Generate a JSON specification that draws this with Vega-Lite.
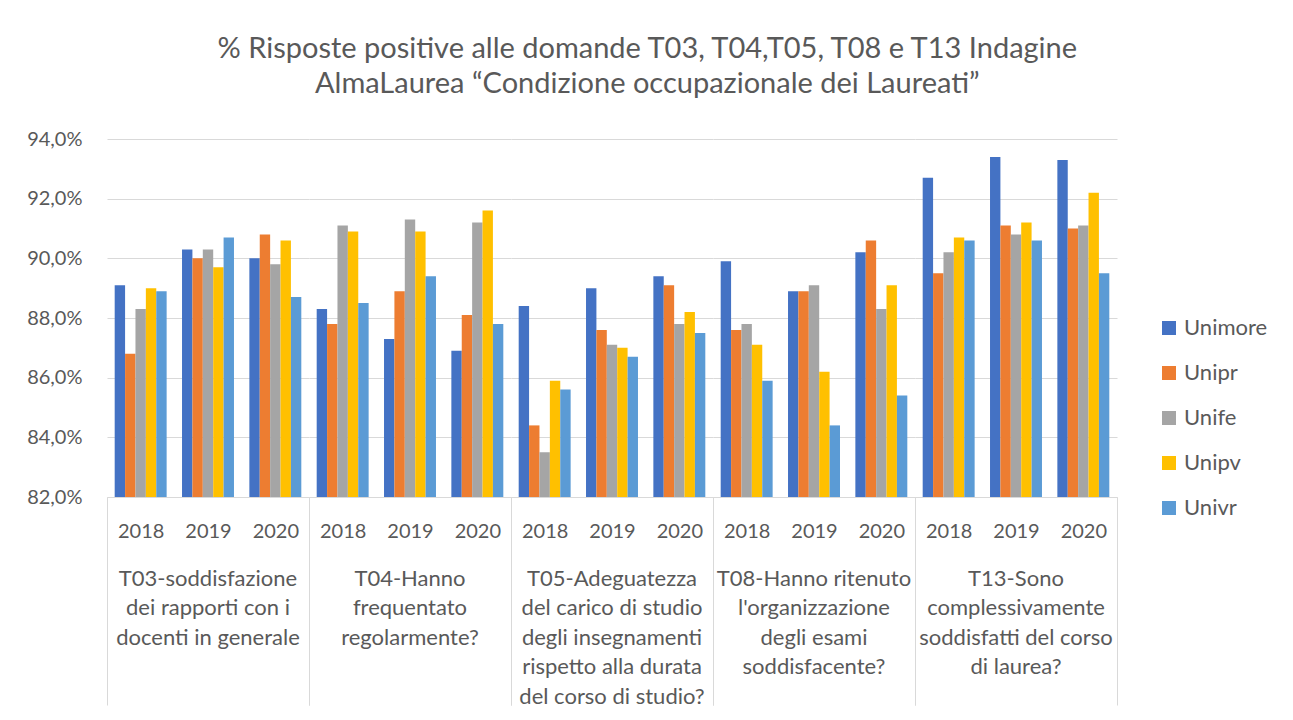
{
  "$schema": "https://vega.github.io/schema/vega-lite/v6.json",
  "background": "white",
  "padding": {"left": 26, "top": 35, "right": 5, "bottom": 0},
  "title": {
    "text": ["% Risposte positive alle domande T03, T04,T05, T08 e T13 Indagine", "AlmaLaurea “Condizione occupazionale dei Laureati”"],
    "font": "Lato", "fontSize": 29, "fontWeight": "normal", "color": "#595959",
    "lineHeight": 35, "anchor": "middle", "frame": "bounds", "offset": 30
  },
  "data": {"values": [
    {"q": "T03-soddisfazione|dei rapporti con i|docenti in generale", "year": "2018", "uni": "Unimore", "v": 89.1},
    {"q": "T03-soddisfazione|dei rapporti con i|docenti in generale", "year": "2018", "uni": "Unipr", "v": 86.8},
    {"q": "T03-soddisfazione|dei rapporti con i|docenti in generale", "year": "2018", "uni": "Unife", "v": 88.3},
    {"q": "T03-soddisfazione|dei rapporti con i|docenti in generale", "year": "2018", "uni": "Unipv", "v": 89.0},
    {"q": "T03-soddisfazione|dei rapporti con i|docenti in generale", "year": "2018", "uni": "Univr", "v": 88.9},
    {"q": "T03-soddisfazione|dei rapporti con i|docenti in generale", "year": "2019", "uni": "Unimore", "v": 90.3},
    {"q": "T03-soddisfazione|dei rapporti con i|docenti in generale", "year": "2019", "uni": "Unipr", "v": 90.0},
    {"q": "T03-soddisfazione|dei rapporti con i|docenti in generale", "year": "2019", "uni": "Unife", "v": 90.3},
    {"q": "T03-soddisfazione|dei rapporti con i|docenti in generale", "year": "2019", "uni": "Unipv", "v": 89.7},
    {"q": "T03-soddisfazione|dei rapporti con i|docenti in generale", "year": "2019", "uni": "Univr", "v": 90.7},
    {"q": "T03-soddisfazione|dei rapporti con i|docenti in generale", "year": "2020", "uni": "Unimore", "v": 90.0},
    {"q": "T03-soddisfazione|dei rapporti con i|docenti in generale", "year": "2020", "uni": "Unipr", "v": 90.8},
    {"q": "T03-soddisfazione|dei rapporti con i|docenti in generale", "year": "2020", "uni": "Unife", "v": 89.8},
    {"q": "T03-soddisfazione|dei rapporti con i|docenti in generale", "year": "2020", "uni": "Unipv", "v": 90.6},
    {"q": "T03-soddisfazione|dei rapporti con i|docenti in generale", "year": "2020", "uni": "Univr", "v": 88.7},
    {"q": "T04-Hanno|frequentato|regolarmente?", "year": "2018", "uni": "Unimore", "v": 88.3},
    {"q": "T04-Hanno|frequentato|regolarmente?", "year": "2018", "uni": "Unipr", "v": 87.8},
    {"q": "T04-Hanno|frequentato|regolarmente?", "year": "2018", "uni": "Unife", "v": 91.1},
    {"q": "T04-Hanno|frequentato|regolarmente?", "year": "2018", "uni": "Unipv", "v": 90.9},
    {"q": "T04-Hanno|frequentato|regolarmente?", "year": "2018", "uni": "Univr", "v": 88.5},
    {"q": "T04-Hanno|frequentato|regolarmente?", "year": "2019", "uni": "Unimore", "v": 87.3},
    {"q": "T04-Hanno|frequentato|regolarmente?", "year": "2019", "uni": "Unipr", "v": 88.9},
    {"q": "T04-Hanno|frequentato|regolarmente?", "year": "2019", "uni": "Unife", "v": 91.3},
    {"q": "T04-Hanno|frequentato|regolarmente?", "year": "2019", "uni": "Unipv", "v": 90.9},
    {"q": "T04-Hanno|frequentato|regolarmente?", "year": "2019", "uni": "Univr", "v": 89.4},
    {"q": "T04-Hanno|frequentato|regolarmente?", "year": "2020", "uni": "Unimore", "v": 86.9},
    {"q": "T04-Hanno|frequentato|regolarmente?", "year": "2020", "uni": "Unipr", "v": 88.1},
    {"q": "T04-Hanno|frequentato|regolarmente?", "year": "2020", "uni": "Unife", "v": 91.2},
    {"q": "T04-Hanno|frequentato|regolarmente?", "year": "2020", "uni": "Unipv", "v": 91.6},
    {"q": "T04-Hanno|frequentato|regolarmente?", "year": "2020", "uni": "Univr", "v": 87.8},
    {"q": "T05-Adeguatezza|del carico di studio|degli insegnamenti|rispetto alla durata|del corso di studio?", "year": "2018", "uni": "Unimore", "v": 88.4},
    {"q": "T05-Adeguatezza|del carico di studio|degli insegnamenti|rispetto alla durata|del corso di studio?", "year": "2018", "uni": "Unipr", "v": 84.4},
    {"q": "T05-Adeguatezza|del carico di studio|degli insegnamenti|rispetto alla durata|del corso di studio?", "year": "2018", "uni": "Unife", "v": 83.5},
    {"q": "T05-Adeguatezza|del carico di studio|degli insegnamenti|rispetto alla durata|del corso di studio?", "year": "2018", "uni": "Unipv", "v": 85.9},
    {"q": "T05-Adeguatezza|del carico di studio|degli insegnamenti|rispetto alla durata|del corso di studio?", "year": "2018", "uni": "Univr", "v": 85.6},
    {"q": "T05-Adeguatezza|del carico di studio|degli insegnamenti|rispetto alla durata|del corso di studio?", "year": "2019", "uni": "Unimore", "v": 89.0},
    {"q": "T05-Adeguatezza|del carico di studio|degli insegnamenti|rispetto alla durata|del corso di studio?", "year": "2019", "uni": "Unipr", "v": 87.6},
    {"q": "T05-Adeguatezza|del carico di studio|degli insegnamenti|rispetto alla durata|del corso di studio?", "year": "2019", "uni": "Unife", "v": 87.1},
    {"q": "T05-Adeguatezza|del carico di studio|degli insegnamenti|rispetto alla durata|del corso di studio?", "year": "2019", "uni": "Unipv", "v": 87.0},
    {"q": "T05-Adeguatezza|del carico di studio|degli insegnamenti|rispetto alla durata|del corso di studio?", "year": "2019", "uni": "Univr", "v": 86.7},
    {"q": "T05-Adeguatezza|del carico di studio|degli insegnamenti|rispetto alla durata|del corso di studio?", "year": "2020", "uni": "Unimore", "v": 89.4},
    {"q": "T05-Adeguatezza|del carico di studio|degli insegnamenti|rispetto alla durata|del corso di studio?", "year": "2020", "uni": "Unipr", "v": 89.1},
    {"q": "T05-Adeguatezza|del carico di studio|degli insegnamenti|rispetto alla durata|del corso di studio?", "year": "2020", "uni": "Unife", "v": 87.8},
    {"q": "T05-Adeguatezza|del carico di studio|degli insegnamenti|rispetto alla durata|del corso di studio?", "year": "2020", "uni": "Unipv", "v": 88.2},
    {"q": "T05-Adeguatezza|del carico di studio|degli insegnamenti|rispetto alla durata|del corso di studio?", "year": "2020", "uni": "Univr", "v": 87.5},
    {"q": "T08-Hanno ritenuto|l'organizzazione|degli esami|soddisfacente?", "year": "2018", "uni": "Unimore", "v": 89.9},
    {"q": "T08-Hanno ritenuto|l'organizzazione|degli esami|soddisfacente?", "year": "2018", "uni": "Unipr", "v": 87.6},
    {"q": "T08-Hanno ritenuto|l'organizzazione|degli esami|soddisfacente?", "year": "2018", "uni": "Unife", "v": 87.8},
    {"q": "T08-Hanno ritenuto|l'organizzazione|degli esami|soddisfacente?", "year": "2018", "uni": "Unipv", "v": 87.1},
    {"q": "T08-Hanno ritenuto|l'organizzazione|degli esami|soddisfacente?", "year": "2018", "uni": "Univr", "v": 85.9},
    {"q": "T08-Hanno ritenuto|l'organizzazione|degli esami|soddisfacente?", "year": "2019", "uni": "Unimore", "v": 88.9},
    {"q": "T08-Hanno ritenuto|l'organizzazione|degli esami|soddisfacente?", "year": "2019", "uni": "Unipr", "v": 88.9},
    {"q": "T08-Hanno ritenuto|l'organizzazione|degli esami|soddisfacente?", "year": "2019", "uni": "Unife", "v": 89.1},
    {"q": "T08-Hanno ritenuto|l'organizzazione|degli esami|soddisfacente?", "year": "2019", "uni": "Unipv", "v": 86.2},
    {"q": "T08-Hanno ritenuto|l'organizzazione|degli esami|soddisfacente?", "year": "2019", "uni": "Univr", "v": 84.4},
    {"q": "T08-Hanno ritenuto|l'organizzazione|degli esami|soddisfacente?", "year": "2020", "uni": "Unimore", "v": 90.2},
    {"q": "T08-Hanno ritenuto|l'organizzazione|degli esami|soddisfacente?", "year": "2020", "uni": "Unipr", "v": 90.6},
    {"q": "T08-Hanno ritenuto|l'organizzazione|degli esami|soddisfacente?", "year": "2020", "uni": "Unife", "v": 88.3},
    {"q": "T08-Hanno ritenuto|l'organizzazione|degli esami|soddisfacente?", "year": "2020", "uni": "Unipv", "v": 89.1},
    {"q": "T08-Hanno ritenuto|l'organizzazione|degli esami|soddisfacente?", "year": "2020", "uni": "Univr", "v": 85.4},
    {"q": "T13-Sono|complessivamente|soddisfatti del corso|di laurea?", "year": "2018", "uni": "Unimore", "v": 92.7},
    {"q": "T13-Sono|complessivamente|soddisfatti del corso|di laurea?", "year": "2018", "uni": "Unipr", "v": 89.5},
    {"q": "T13-Sono|complessivamente|soddisfatti del corso|di laurea?", "year": "2018", "uni": "Unife", "v": 90.2},
    {"q": "T13-Sono|complessivamente|soddisfatti del corso|di laurea?", "year": "2018", "uni": "Unipv", "v": 90.7},
    {"q": "T13-Sono|complessivamente|soddisfatti del corso|di laurea?", "year": "2018", "uni": "Univr", "v": 90.6},
    {"q": "T13-Sono|complessivamente|soddisfatti del corso|di laurea?", "year": "2019", "uni": "Unimore", "v": 93.4},
    {"q": "T13-Sono|complessivamente|soddisfatti del corso|di laurea?", "year": "2019", "uni": "Unipr", "v": 91.1},
    {"q": "T13-Sono|complessivamente|soddisfatti del corso|di laurea?", "year": "2019", "uni": "Unife", "v": 90.8},
    {"q": "T13-Sono|complessivamente|soddisfatti del corso|di laurea?", "year": "2019", "uni": "Unipv", "v": 91.2},
    {"q": "T13-Sono|complessivamente|soddisfatti del corso|di laurea?", "year": "2019", "uni": "Univr", "v": 90.6},
    {"q": "T13-Sono|complessivamente|soddisfatti del corso|di laurea?", "year": "2020", "uni": "Unimore", "v": 93.3},
    {"q": "T13-Sono|complessivamente|soddisfatti del corso|di laurea?", "year": "2020", "uni": "Unipr", "v": 91.0},
    {"q": "T13-Sono|complessivamente|soddisfatti del corso|di laurea?", "year": "2020", "uni": "Unife", "v": 91.1},
    {"q": "T13-Sono|complessivamente|soddisfatti del corso|di laurea?", "year": "2020", "uni": "Unipv", "v": 92.2},
    {"q": "T13-Sono|complessivamente|soddisfatti del corso|di laurea?", "year": "2020", "uni": "Univr", "v": 89.5}
  ]},
  "spacing": 0,
  "facet": {
    "column": {
      "field": "q", "type": "nominal",
      "header": {
        "title": null, "labelOrient": "bottom",
        "labelExpr": "split(datum.value, '|')",
        "labelFont": "Lato", "labelFontSize": 22, "labelLineHeight": 29.5,
        "labelColor": "#595959", "labelBaseline": "top", "labelPadding": -137
      }
    }
  },
  "spec": {
    "width": 202,
    "height": 358,
    "mark": {"type": "bar"},
    "encoding": {
      "x": {
        "field": "year", "type": "nominal",
        "scale": {"paddingInner": 0, "paddingOuter": 0},
        "axis": {
          "title": null, "labelAngle": 0, "tickBand": "extent", "tickSize": 208,
          "tickColor": "#d9d9d9",
          "tickOpacity": {"condition": {"test": "datum.value != '2018' && datum.value != '2019'", "value": 1}, "value": 0},
          "labelPadding": -174, "labelBaseline": "middle",
          "labelFont": "Lato", "labelFontSize": 20, "labelColor": "#595959",
          "domainColor": "#d9d9d9", "grid": false
        }
      },
      "xOffset": {
        "field": "uni", "type": "nominal",
        "sort": ["Unimore", "Unipr", "Unife", "Unipv", "Univr"],
        "scale": {"paddingInner": 0, "paddingOuter": 0.74}
      },
      "y": {
        "field": "v", "type": "quantitative", "stack": null,
        "scale": {"domain": [82, 94], "zero": false, "nice": false},
        "axis": {
          "title": null, "values": [82, 84, 86, 88, 90, 92, 94],
          "labelExpr": "replace(format(datum.value, '.1f'), '.', ',') + '%'",
          "domain": false, "ticks": false, "labelPadding": 25,
          "labelFont": "Lato", "labelFontSize": 20, "labelColor": "#595959",
          "gridColor": "#d9d9d9", "gridWidth": 1
        }
      },
      "y2": {"datum": 82},
      "color": {
        "field": "uni", "type": "nominal",
        "scale": {"domain": ["Unimore", "Unipr", "Unife", "Unipv", "Univr"], "range": ["#4472C4", "#ED7D31", "#A5A5A5", "#FFC000", "#5B9BD5"]},
        "legend": {
          "title": null, "orient": "none", "legendX": 1051, "legendY": 178,
          "symbolType": "square", "symbolSize": 196, "symbolStrokeWidth": 0, "symbolOpacity": 1,
          "labelFont": "Lato", "labelFontSize": 22, "labelColor": "#595959",
          "rowPadding": 23, "labelOffset": 4
        }
      }
    }
  },
  "config": {
    "view": {"stroke": null}
  }
}
